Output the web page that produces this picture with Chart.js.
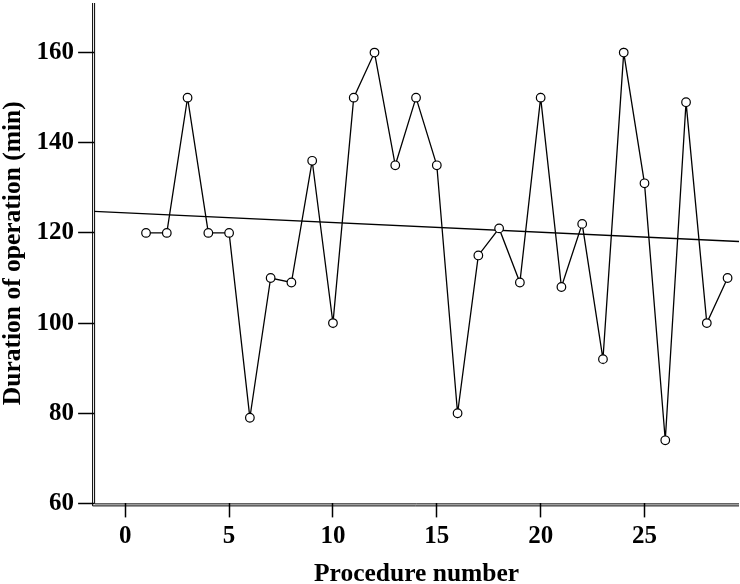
<!DOCTYPE html>
<html>
<head>
<meta charset="utf-8">
<script src="https://cdn.jsdelivr.net/npm/chart.js@4.4.1/dist/chart.umd.min.js"></script>
<style>
  html, body { margin: 0; padding: 0; background: #fff; }
  #wrap { width: 740px; height: 584px; position: relative; }
</style>
</head>
<body>
<div id="wrap"><canvas id="c"></canvas></div>
<script>
const procedureNumbers = [1,2,3,4,5,6,7,8,9,10,11,12,13,14,15,16,17,18,19,20,21,22,23,24,25,26,27,28,29];
const durations = [120,120,150,120,120,79,110,109,136,100,150,160,135,150,135,80,115,121,109,150,108,122,92,160,131,74,149,100,110];
const trendX = [-1.5, 29.55];
const trendY = [124.8, 118.1];
const xTicks = [0,5,10,15,20,25];
const yTicks = [60,80,100,120,140,160];

const FONT = "'Liberation Serif', 'Times New Roman', serif";

const doubleAxis = {
  id: 'doubleAxis',
  afterDatasetsDraw(chart) {
    const {ctx, chartArea: a} = chart;
    ctx.save();
    ctx.strokeStyle = '#000';
    ctx.lineWidth = 1;
    ctx.beginPath();
    ctx.moveTo(a.left + 0.5, a.top);
    ctx.lineTo(a.left + 0.5, a.bottom + 0.5);
    ctx.lineTo(a.right, a.bottom + 0.5);
    ctx.moveTo(a.left - 1.5, a.top);
    ctx.lineTo(a.left - 1.5, a.bottom + 2.5);
    ctx.lineTo(a.right, a.bottom + 2.5);
    ctx.stroke();
    ctx.restore();
  }
};

function noEdgePadding(scale) {
  scale.paddingTop = 0;
  scale.paddingBottom = 0;
  scale.paddingLeft = 0;
  scale.paddingRight = 0;
}

new Chart(document.getElementById('c'), {
  type: 'scatter',
  data: {
    datasets: [
      {
        label: 'Duration',
        data: procedureNumbers.map((x, i) => ({x, y: durations[i]})),
        showLine: true,
        borderColor: '#000',
        borderWidth: 1.3,
        pointRadius: 4.3,
        pointBorderWidth: 1.2,
        pointBackgroundColor: '#fff',
        pointBorderColor: '#000',
        clip: false,
        order: 1
      },
      {
        label: 'Trend',
        data: trendX.map((x, i) => ({x, y: trendY[i]})),
        showLine: true,
        borderColor: '#000',
        borderWidth: 1.3,
        pointRadius: 0,
        order: 2
      }
    ]
  },
  options: {
    responsive: true,
    maintainAspectRatio: false,
    animation: false,
    layout: { autoPadding: false, padding: { left: -2, right: 1, top: 3, bottom: -6 } },
    plugins: { legend: { display: false }, tooltip: { enabled: false } },
    scales: {
      x: {
        type: 'linear',
        min: -1.5,
        max: 29.55,
        afterBuildTicks(s) { s.ticks = xTicks.map(v => ({value: v})); },
        afterFit: noEdgePadding,
        border: { display: false },
        grid: { drawOnChartArea: false, drawTicks: true, tickLength: 14, tickWidth: 1.5, tickColor: '#000', offset: false },
        ticks: { color: '#000', font: { family: FONT, size: 25, weight: 'bold' }, padding: 4, maxRotation: 0, autoSkip: false },
        title: { display: true, text: 'Procedure number', color: '#000', font: { family: FONT, size: 25.5, weight: 'bold' }, padding: { top: 4, bottom: 0 } }
      },
      y: {
        type: 'linear',
        min: 60,
        max: 171,
        afterBuildTicks(s) { s.ticks = yTicks.map(v => ({value: v})); },
        afterFit: noEdgePadding,
        border: { display: false },
        grid: { drawOnChartArea: false, drawTicks: true, tickLength: 16, tickWidth: 1.5, tickColor: '#000' },
        ticks: { color: '#000', font: { family: FONT, size: 25, weight: 'bold' }, padding: 4 },
        title: { display: true, text: 'Duration of operation (min)', color: '#000', font: { family: FONT, size: 25.5, weight: 'bold' }, padding: { top: 0, bottom: 4 } }
      }
    }
  },
  plugins: [doubleAxis]
});
</script>
</body>
</html>
